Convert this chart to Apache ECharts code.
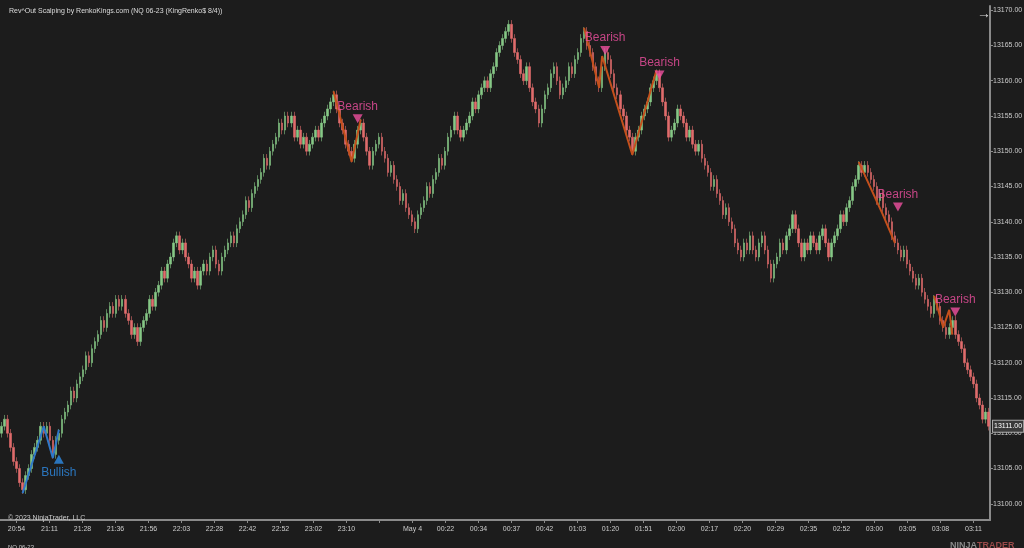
<!DOCTYPE html>
<html><head><meta charset="utf-8">
<script src="https://cdn.jsdelivr.net/npm/echarts@6/dist/echarts.min.js"></script>
<style>html,body{margin:0;padding:0;background:#1c1c1c}#c{width:1024px;height:548px}</style>
</head><body><div id="c"></div>
<script>
var closes = [
13111,13112,13110,13108,13106,13105,13103,13102,
13104,13105,13107,13108,13109,13111,13110,13111,
13109,13107,
13109,13110,13112,13113,13114,13116,13115,13117,13118,13119,13121,13120,13122,13123,13124,13126,13125,13127,13128,13127,13129,13128,13129,
13127,13126,13124,13125,13123,
13125,13126,13127,13129,13128,13130,13131,13133,13132,13134,13135,13137,13138,
13136,13137,13135,13134,13132,13133,13131,
13133,13134,13133,13135,13136,
13134,13133,
13135,13136,13137,13138,13137,13139,13140,13141,13143,13142,13144,13145,13146,13147,13149,13148,13150,13151,13152,13154,13153,13155,
13154,13155,13152,13153,13151,13152,13150,
13151,13152,13153,13152,13154,13155,13156,13157,13158,
13156,13154,13153,13151,13150,13149,
13151,13153,13154,
13152,13150,13148,
13150,13151,13152,
13150,13149,13147,13148,13146,13145,13143,13144,13142,13141,13140,13139,
13141,13142,13143,13145,13144,13146,13147,13149,13148,13150,13152,13153,13155,
13153,13152,
13153,13154,13155,13157,13156,13158,13159,13160,13159,13161,13162,13164,13165,
13166,13167,13168,
13166,13164,
13163,13161,13160,13162,13159,13157,13156,13154,
13156,13158,13159,13161,13162,
13160,13158,
13159,13160,13162,13161,13163,13164,13166,13167,
13165,13164,13162,13160,13159,
13162,13164,
13163,13161,13159,13158,13156,13155,13153,13152,13150,
13152,13153,13155,13156,13157,13159,13160,13161,
13159,13157,13155,13152,
13153,13154,13156,13155,
13154,13152,13153,13151,13150,13151,13149,
13148,13147,13145,13146,13144,13143,13141,13142,13140,13139,13137,13136,13135,
13137,13136,13138,13136,13135,13137,13138,
13136,13134,13132,
13134,13135,13137,13136,13138,13139,13141,
13139,13137,13135,
13137,13136,13138,13137,13136,13138,13139,
13137,13135,
13137,13138,13139,13141,13140,13142,13143,13145,13146,13148,
13147,13148,13147,
13146,13145,13143,13144,13142,
13141,13140,13138,13137,
13136,13135,13136,13134,13133,13132,13131,13132,13130,13129,13128,13127,
13129,
13128,13126,13125,13124,
13125,13126,
13124,13123,13122,13120,13119,13118,13117,13115,13114,13112,13113,13111
];
var timeLabels = ['20:54','21:11','21:28','21:36','21:56','22:03','22:28','22:42','22:52','23:02','23:10','','May 4','00:22','00:34','00:37','00:42','01:03','01:20','01:51','02:00','02:17','02:20','02:29','02:35','02:52','03:00','03:05','03:08','03:11'];
var priceTicks = [13100,13105,13110,13115,13120,13125,13130,13135,13140,13145,13150,13155,13160,13165,13170];
var lastPrice = 13111;
var bullZig = [[7,13101.5],[14,13111],[17,13106.5],[19,13110.5]];
var bearZigs = [
 [[110,13158.5],[116,13148.5],[119,13154.5]],
 [[193,13167.5],[198,13159],[199,13163.5],[209,13149.5],[217,13161.5]],
 [[284,13148.5],[292,13141],[296,13137]],
 [[309,13129.5],[312,13125],[314,13127.5],[315,13124]]
];
var bullSignals = [[19,13106.3]];
var bearSignals = [[118,13154.6],[200,13164.3],[218,13160.8],[297,13142.1],[316,13127.2]];

var cats = closes.map(function(_, i){return i;});
var candles = closes.map(function(c, i){
  var o = i === 0 ? c - 1 : closes[i-1];
  if (o === c) o = c - 0.3;
  return [o, c, Math.min(o,c) - 0.6, Math.max(o,c) + 0.6];
});
var series = [{
  type:'candlestick', data:candles, barWidth:2,
  itemStyle:{color:'#86c886',color0:'#e06c6c',borderColor:'#86c886',borderColor0:'#e06c6c',borderWidth:0.6}
},{
  type:'line', data:bullZig, symbol:'none', lineStyle:{color:'#2f78c8',width:2}, z:5
}];
bearZigs.forEach(function(z){
  series.push({type:'line', data:z, symbol:'none', lineStyle:{color:'#c4501c',width:2}, z:5});
});
series.push({
  type:'scatter', data:bullSignals, symbol:'triangle', symbolSize:[10,9], itemStyle:{color:'#2e8ce6'}, z:6,
  label:{show:true, formatter:'Bullish', position:'bottom', distance:3, color:'#2e8ce6', fontSize:12, fontFamily:'Arial'}
});
series.push({
  type:'scatter', data:bearSignals, symbol:'triangle', symbolRotate:180, symbolSize:[10,9], itemStyle:{color:'#f050a0'}, z:6,
  label:{show:true, formatter:'Bearish', position:'top', distance:2, color:'#f050a0', fontSize:12, fontFamily:'Arial'}
});

var chart = echarts.init(document.getElementById('c'));
chart.setOption({
  backgroundColor:'#1c1c1c', animation:false,
  grid:{left:0, right:34, top:6, bottom:28, containLabel:false, outerBoundsMode:'none'},
  title:[
    {text:'Rev^Out Scalping by RenkoKings.com (NQ 06-23 (KingRenko$ 8/4))', left:4, top:3, textStyle:{color:'#dddddd',fontSize:7,fontWeight:'normal',fontFamily:'Arial'}},
    {text:'© 2023 NinjaTrader, LLC', left:3, top:510, textStyle:{color:'#cccccc',fontSize:7,fontWeight:'normal',fontFamily:'Arial'}},
    {text:'NQ 06-23', left:3, top:539, textStyle:{color:'#cccccc',fontSize:6,fontWeight:'normal',fontFamily:'Arial'}},
    {text:'→', left:972, top:2, textStyle:{color:'#dddddd',fontSize:14,fontWeight:'normal'}},
    {text:'{a|NINJA}{b|TRADER}', left:945, top:536, textStyle:{rich:{a:{color:'#8a8a8a',fontSize:9,fontFamily:'Arial'},b:{color:'#9a4a4a',fontSize:9,fontFamily:'Arial'}}}}
  ],
  xAxis:[
    {type:'category', data:cats, boundaryGap:true, axisLine:{show:false}, axisTick:{show:false}, axisLabel:{show:false}},
    {type:'category', data:timeLabels, position:'bottom', gridIndex:0, boundaryGap:true,
     axisLine:{show:true, lineStyle:{color:'#8a8a8a',width:2}}, axisTick:{show:true, alignWithLabel:true, length:3, lineStyle:{color:'#8a8a8a'}},
     axisLabel:{color:'#cccccc', fontSize:7, margin:6, interval:0, fontFamily:'Arial'}, splitLine:{show:false}}
  ],
  yAxis:{type:'value', position:'right', min:13097.7, max:13170.6, scale:true,
    axisLine:{show:true, lineStyle:{color:'#8a8a8a',width:2}},
    axisTick:{show:true, length:3, customValues:priceTicks, lineStyle:{color:'#8a8a8a'}},
    splitLine:{show:false},
    axisLabel:{customValues:priceTicks.concat([lastPrice+0.0001]), color:'#cccccc', fontSize:7, margin:3, fontFamily:'Arial',
      formatter:function(v){
        if (Math.abs(v - lastPrice) < 0.01 && v !== 13110) return '{p|' + lastPrice.toFixed(2) + '}';
        return v.toFixed(2);
      },
      rich:{p:{color:'#ffffff',backgroundColor:'#3a3a3a',borderColor:'#aaaaaa',borderWidth:1,padding:[2,1],fontSize:7,fontFamily:'Arial'}}
    }},
  series:series
});
</script></body></html>
